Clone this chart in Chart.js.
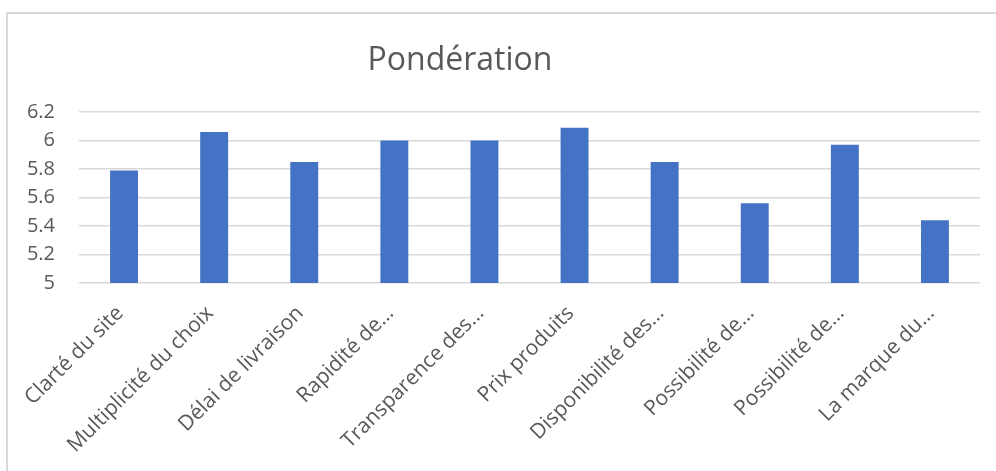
<!DOCTYPE html>
<html lang="fr">
<head>
<meta charset="utf-8">
<title>Pondération</title>
<script src="https://cdn.jsdelivr.net/npm/chart.js"></script>
<style>
    html, body { margin: 0; padding: 0; background: #fff; overflow: hidden; }
    .frame {
        position: absolute; left: 6px; top: 12px;
        width: 1100px; height: 600px;
        border: 2px solid #d9d9d9;
    }
    .wrap { position: absolute; left: 0; top: 0; width: 996px; height: 471px; }
</style>
</head>
<body>
<div class="frame"></div>
<div class="wrap"><canvas id="ponderationChart" width="996" height="471"></canvas></div>
<script>
const titleText = 'Pondération';

const categories = [
    'Clarté du site',
    'Multiplicité du choix',
    'Délai de livraison',
    'Rapidité de…',
    'Transparence des…',
    'Prix produits',
    'Disponibilité des…',
    'Possibilité de…',
    'Possibilité de…',
    'La marque du…'
];

const weights = [5.79, 6.06, 5.85, 6.00, 6.00, 6.09, 5.85, 5.56, 5.97, 5.44];

const yTicks = [5, 5.2, 5.4, 5.6, 5.8, 6, 6.2];

const textColor = '#595959';
const gridColor = '#d9d9d9';
const barColor = '#4472c4';

// title sits a bit left of the plot centre, so draw it by hand
const titlePlugin = {
    id: 'ponderationTitle',
    afterDraw(chart) {
        const ctx = chart.ctx;
        ctx.save();
        ctx.font = '32px "Open Sans"';
        ctx.fillStyle = textColor;
        ctx.textAlign = 'center';
        ctx.textBaseline = 'alphabetic';
        ctx.fillText(titleText, 460, 70);
        ctx.restore();
    }
};

const ctx = document.getElementById('ponderationChart').getContext('2d');

const chart = new Chart(ctx, {
    type: 'bar',
    data: {
        labels: categories,
        datasets: [{
            label: titleText,
            data: weights,
            backgroundColor: barColor,
            borderWidth: 0,
            categoryPercentage: 1,
            barPercentage: 0.31
        }]
    },
    options: {
        responsive: false,
        animation: false,
        layout: {
            padding: { top: 112, right: 16, bottom: 0, left: 0 }
        },
        plugins: {
            legend: { display: false },
            title: { display: false },
            tooltip: { enabled: false }
        },
        scales: {
            x: {
                grid: { display: false },
                border: { display: false },
                ticks: {
                    color: textColor,
                    font: { family: 'Open Sans', size: 21 },
                    maxRotation: 45,
                    minRotation: 45,
                    autoSkip: false,
                    padding: 10,
                    labelOffset: -4
                },
                afterFit(scale) { scale.height = 188; }
            },
            y: {
                min: yTicks[0],
                max: yTicks[yTicks.length - 1],
                grid: { color: gridColor, lineWidth: 1.5, drawTicks: false },
                border: { display: false },
                ticks: {
                    color: textColor,
                    font: { family: 'Open Sans', size: 20 },
                    padding: 24,
                    callback: (value) => String(Math.round(value * 10) / 10)
                },
                afterBuildTicks(scale) {
                    scale.ticks = yTicks.map(v => ({ value: v }));
                },
                afterFit(scale) { scale.width = 79; }
            }
        }
    },
    plugins: [titlePlugin]
});
</script>
</body>
</html>
